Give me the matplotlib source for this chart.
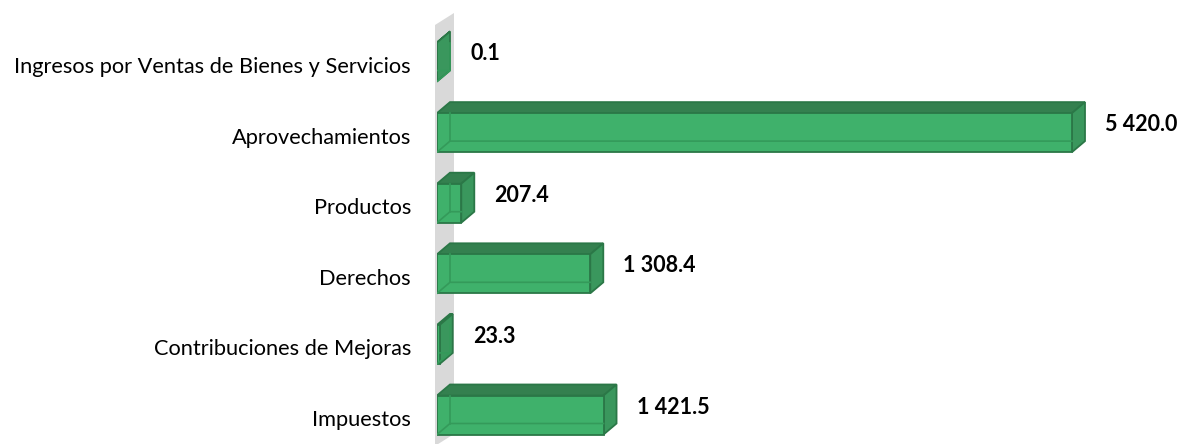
import matplotlib.pyplot as plt
from matplotlib.patches import Polygon

# datos (de abajo hacia arriba)
categorias = ['Impuestos', 'Contribuciones de Mejoras', 'Derechos',
              'Productos', 'Aprovechamientos',
              'Ingresos por Ventas de Bienes y Servicios']
valores = [1421.5, 23.3, 1308.4, 207.4, 5420.0, 0.1]
etiquetas = ['1 421.5', '23.3', '1 308.4', '207.4', '5 420.0', '0.1']

plt.rcParams['font.family'] = ['Lato', 'DejaVu Sans']

W, H = 1180, 444
fig = plt.figure(figsize=(W / 100, H / 100), dpi=100)

# escala: 0 en x=437px, 5420 en x=1072px
px_x = 635 / 5420.0
x0_px = 437
px_y = 70.6
y0_px = 415  # centro de la cara frontal del indice 0, desde arriba

ax = fig.add_axes([x0_px / W, 0, 1 - x0_px / W, 1])
ax.set_xlim(0, (W - x0_px) / px_x)
ax.set_ylim(-(H - y0_px) / px_y, y0_px / px_y)
ax.axis('off')

h = 19.5 / px_y        # media altura de la barra
dx = 13 / px_x         # profundidad en x
dy = 11 / px_y         # profundidad en y

# pared lateral gris
wx = -2 / px_x
wdx = 19 / px_x
wdy = 12 / px_y
ytop = (y0_px - 25) / px_y
ybot = -(H + 2 - y0_px) / px_y
ax.add_patch(Polygon([(wx, ybot), (wx, ytop), (wx + wdx, ytop + wdy),
                      (wx + wdx, ybot + wdy)], closed=True,
                     facecolor='#d9d9d9', edgecolor='none', clip_on=False, zorder=1))

c_front = '#3fb16b'
c_top = '#34804f'
c_side = '#3a975d'
c_edge = '#2b7747'
c_hidden = '#349a5a'

for i, (v, lab) in enumerate(zip(valores, etiquetas)):
    b, t = i - h, i + h
    # cara superior
    ax.add_patch(Polygon([(0, t), (v, t), (v + dx, t + dy), (dx, t + dy)],
                         closed=True, facecolor=c_top, edgecolor=c_edge, lw=1.3, zorder=3))
    # cara lateral derecha
    ax.add_patch(Polygon([(v, b), (v + dx, b + dy), (v + dx, t + dy), (v, t)],
                         closed=True, facecolor=c_side, edgecolor=c_edge, lw=1.3, zorder=3))
    # cara frontal
    ax.add_patch(Polygon([(0, b), (v, b), (v, t), (0, t)], closed=True,
                         facecolor=c_front, edgecolor=c_edge, lw=1.3, zorder=4))
    # aristas ocultas (vistas a traves de la cara frontal)
    ax.plot([dx, dx], [b + dy, t], color=c_hidden, lw=1.2, zorder=5)
    ax.plot([0, dx, v], [b, b + dy, b + dy], color=c_hidden, lw=1.2, zorder=5)
    # etiqueta de valor
    ax.text(v + dx + 20 / px_x, i + dy - 3 / px_y, lab, ha='left', va='center',
            fontsize=15.5, fontweight='bold', color='black', zorder=6)
    # etiqueta de categoria
    ax.text(-26 / px_x, i - 5 / px_y, categorias[i], ha='right', va='center',
            fontsize=15.7, color='black', clip_on=False)

fig.savefig('out.png', dpi=100)
